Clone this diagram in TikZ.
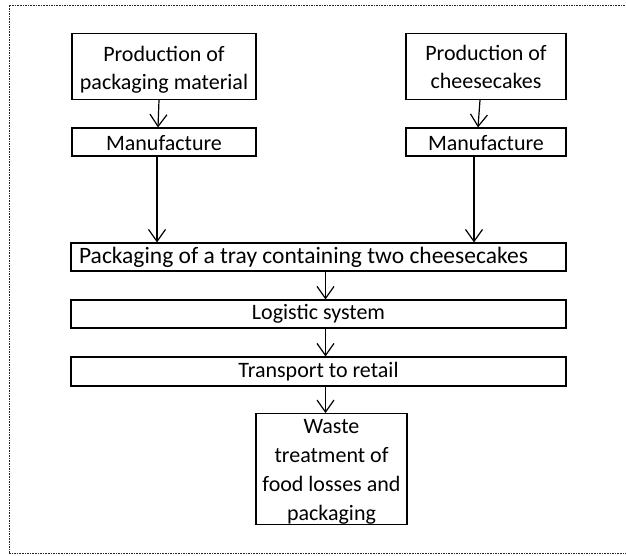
\documentclass[tikz,border=0pt]{standalone}
\usepackage{fontspec}
\setmainfont{Carlito}
\usetikzlibrary{arrows.meta}
\tikzset{
  box/.style={draw=black, line width=1.1pt, rectangle, inner sep=0pt, align=center,
    font=\fontsize{22}{28}\selectfont, text=black},
  arr/.style={draw=black, line width=1.2pt, -{Straight Barb[length=12pt,width=17pt,line width=1.2pt]}},
  frame/.style={draw=black!85, line width=0.9pt, dash pattern=on 1.6pt off 1pt}
}
\begin{document}
\begin{tikzpicture}[x=1pt,y=-1pt]
\useasboundingbox (0,0) rectangle (626,555);
\draw[frame] (9,553) -- (9,5) -- (626,5);
\draw[frame] (9,553) -- (626,553);

\node[box, minimum width=184pt, minimum height=66pt] (p1) at (164,66.5) {\rule{0pt}{21pt}Production of\\packaging material};
\node[box, minimum width=160pt, minimum height=66pt] (p2) at (486,66.5) {Production of\\cheesecakes};
\node[box, minimum width=184pt, minimum height=28pt] (m1) at (164,142) {\rule{0pt}{18pt}Manufacture};
\node[box, minimum width=160pt, minimum height=28pt] (m2) at (486,142) {\rule{0pt}{18pt}Manufacture};
\node[box, minimum width=495pt, minimum height=28pt] (tray) at (318.5,257) {\fontsize{23.5}{28}\selectfont Packaging of a tray containing two cheesecakes\hspace*{30pt}};
\node[box, minimum width=495pt, minimum height=28pt] (log) at (318.5,314) {Logistic system};
\node[box, minimum width=495pt, minimum height=29pt] (trans) at (318.5,371.5) {Transport to retail};
\node[box, minimum width=151pt, minimum height=110pt, font=\fontsize{22}{29}\selectfont] (waste) at (331.5,469) {\rule{0pt}{20pt}Waste\\treatment of\\food losses and\\packaging};

\draw[arr] ([xshift=-5pt]p1.south) -- ([xshift=-6pt]m1.north);
\draw[arr] ([xshift=-7pt]m1.south) -- ([xshift=-7pt]m1.south |- tray.north);
\draw[arr] ([xshift=-6pt]p2.south) -- ([xshift=-8pt]m2.north);
\draw[arr] ([xshift=-12pt]m2.south) -- ([xshift=-12pt]m2.south |- tray.north);
\draw[arr] ([xshift=7pt]tray.south) -- ([xshift=7pt]log.north);
\draw[arr] ([xshift=7pt]log.south) -- ([xshift=7pt]trans.north);
\draw[arr] ([xshift=7pt]trans.south) -- ([xshift=7pt]trans.south |- waste.north);
\end{tikzpicture}
\end{document}
